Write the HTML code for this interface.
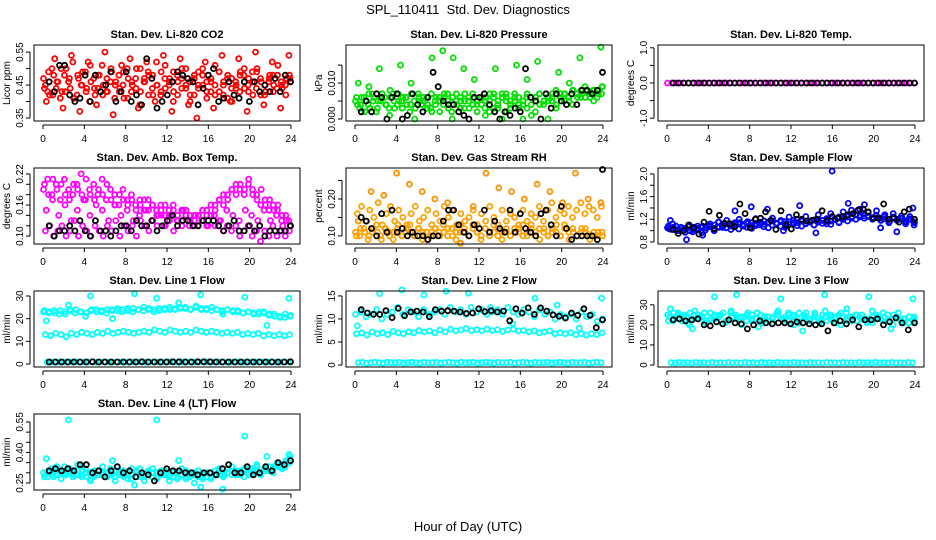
<!DOCTYPE html>
<html><head><meta charset="utf-8"><style>
body{margin:0;background:#fff;}
svg{display:block;font-family:"Liberation Sans",sans-serif;}
</style></head><body>
<svg id="chart" width="936" height="540" viewBox="0 0 936 540">
<text x="468" y="14" text-anchor="middle" font-size="13" xml:space="preserve">SPL_110411  Std. Dev. Diagnostics</text>
<text x="468" y="531" text-anchor="middle" font-size="13">Hour of Day (UTC)</text>
</svg>
<script>
const hourTicks=[0,4,8,12,16,20,24];
const co2Red1=[0.47,0.43,0.50,0.44,0.41,0.48,0.46,0.52,0.42,0.45,0.49,0.40,0.47,0.44,0.51,0.43,0.46,0.41,0.48,0.45,0.50,0.43,0.47,0.39,0.46,0.49,0.44,0.52,0.42,0.47,0.45,0.40,0.48,0.44,0.50,0.46,0.42,0.49,0.45,0.41,0.47,0.51,0.43,0.46,0.48,0.40,0.45,0.49,0.44,0.47,0.42,0.50,0.46,0.43,0.48,0.45,0.51,0.44,0.47,0.46];
const co2Red2=[0.44,0.49,0.42,0.46,0.50,0.43,0.47,0.41,0.48,0.45,0.43,0.51,0.44,0.48,0.42,0.47,0.50,0.45,0.43,0.49,0.41,0.46,0.44,0.50,0.47,0.42,0.48,0.45,0.43,0.51,0.46,0.49,0.42,0.47,0.44,0.40,0.48,0.45,0.50,0.43,0.46,0.42,0.49,0.45,0.41,0.47,0.44,0.48,0.50,0.43,0.46,0.49,0.42,0.45,0.47,0.43,0.48,0.45,0.42,0.47];
const co2Red3=[0.40,0.53,0.38,0.54,0.37,0.52,0.39,0.55,0.36,0.51,0.53,0.38,0.52,0.40,0.54,0.37,0.53,0.39,0.35,0.52,0.38,0.54,0.40,0.53,0.37,0.55,0.39,0.52,0.38,0.54];
const co2Red4=[0.45,0.42,0.48,0.46,0.43,0.50,0.44,0.41,0.47,0.49,0.44,0.46,0.42,0.48,0.45,0.43,0.49,0.46,0.44,0.41,0.47,0.45,0.50,0.43,0.46,0.48,0.42,0.45,0.49,0.44,0.47,0.43,0.46,0.50,0.45,0.42,0.47,0.44,0.48,0.46,0.43,0.45,0.49,0.42,0.47,0.44,0.46,0.43,0.48,0.45,0.49,0.44,0.47,0.42,0.46,0.48,0.44,0.46,0.45,0.48];
const co2Black=[0.46,0.43,0.51,0.51,0.42,0.40,0.41,0.48,0.40,0.48,0.43,0.45,0.49,0.40,0.43,0.49,0.40,0.42,0.39,0.53,0.47,0.38,0.40,0.42,0.46,0.49,0.48,0.47,0.46,0.39,0.44,0.48,0.50,0.40,0.41,0.46,0.42,0.41,0.46,0.40,0.46,0.43,0.45,0.43,0.47,0.43,0.48,0.46];
const prGreen1=[.005,.003,.006,.004,.007,.002,.005,.006,.003,.007,.004,.005,.006,.002,.005,.007,.004,.006,.003,.005,.006,.004,.007,.002,.005,.006,.003,.005,.007,.004,.006,.005,.002,.006,.004,.007,.005,.003,.006,.004,.005,.007,.001,.006,.004,.005,.006,.007,.004,.006,.007,.005,.008,.006,.007,.008,.006,.008,.007,.009];
const prGreen2=[.006,.004,.002,.007,.005,.003,.006,.004,.001,.005,.007,.003,.006,.004,.000,.006,.005,.003,.007,.004,.002,.006,.005,.000,.007,.003,.005,.006,.004,.002,.006,.001,.005,.007,.003,.000,.006,.004,.005,.003,.000,.006,.004,.002,.007,.005,.000,.006,.003,.007,.005,.006,.004,.007,.008,.006,.007,.005,.008,.009];
const prGreen3=[.010,.009,.014,.008,.015,.010,.004,.017,.019,.017,.014,.011,.003,.014,.007,.015,.011,.016,.005,.013,.010,.017,.007,.020];
const prGreen4=[.004,.006,.005,.003,.006,.005,.007,.004,.006,.003,.005,.006,.004,.007,.003,.005,.006,.004,.002,.006,.005,.007,.003,.006,.004,.005,.007,.003,.006,.005,.004,.006,.007,.003,.005,.006,.002,.005,.007,.006,.004,.003,.006,.005,.007,.004,.006,.005,.008,.006,.007,.006,.008,.007,.006,.009,.007,.008,.006,.007];
const prBlack=[.002,.005,.002,.007,.006,.000,.006,.007,.000,.001,.007,.004,.002,.006,.013,.009,.005,.004,.004,.002,.001,.000,.006,.006,.007,.004,.002,.000,.002,.001,.003,.002,.014,.006,.005,.000,.007,.003,.007,.005,.004,.007,.004,.008,.008,.007,.008,.013];
const tmpMagenta=[0,0,0,0,0,0,0,0,0,0,0,0,0,0,0,0,0,0,0,0,0,0,0,0,0,0,0,0,0,0,0,0,0,0,0,0,0,0,0,0,0,0,0,0,0,0,0,0,0,0,0,0,0,0,0,0,0,0,0,0];
const tmpBlack=[0,0,0,0,0,0,0,0,0,0,0,0,0,0,0,0,0,0,0,0,0,0,0,0,0,0,0,0,0,0,0,0,0,0,0,0,0,0,0,0,0,0,0,0,0,0,0,0];
const boxUpper=[0.19,0.21,0.18,0.20,0.17,0.21,0.19,0.18,0.20,0.22,0.17,0.19,0.20,0.18,0.21,0.17,0.19,0.18,0.16,0.19,0.17,0.18,0.16,0.17,0.15,0.17,0.16,0.15,0.16,0.14,0.15,0.16,0.13,0.15,0.14,0.13,0.14,0.12,0.13,0.15,0.14,0.16,0.17,0.18,0.17,0.19,0.18,0.20,0.19,0.21,0.18,0.17,0.19,0.16,0.17,0.15,0.16,0.14,0.13,0.12];
const boxUpper2=[0.20,0.18,0.21,0.19,0.20,0.18,0.17,0.20,0.19,0.18,0.21,0.18,0.17,0.19,0.18,0.20,0.17,0.16,0.18,0.17,0.16,0.17,0.15,0.16,0.17,0.15,0.16,0.14,0.15,0.16,0.14,0.15,0.14,0.13,0.15,0.14,0.13,0.14,0.15,0.14,0.16,0.15,0.17,0.16,0.18,0.19,0.20,0.19,0.18,0.20,0.19,0.18,0.16,0.17,0.15,0.16,0.15,0.13,0.14,0.12];
const boxLower=[0.11,0.12,0.10,0.11,0.12,0.10,0.11,0.13,0.10,0.12,0.11,0.10,0.12,0.11,0.10,0.12,0.11,0.13,0.10,0.12,0.11,0.12,0.10,0.13,0.12,0.11,0.13,0.12,0.14,0.12,0.13,0.11,0.13,0.12,0.14,0.13,0.12,0.14,0.13,0.12,0.14,0.12,0.13,0.11,0.12,0.11,0.12,0.10,0.11,0.12,0.10,0.11,0.09,0.11,0.10,0.12,0.10,0.11,0.10,0.11];
const boxMid=[0.15,0.17,0.14,0.16,0.13,0.15,0.17,0.14,0.16,0.15,0.13,0.16,0.14,0.15,0.13,0.14,0.15,0.13,0.14,0.12,0.14,0.13,0.15,0.12,0.14,0.13,0.12,0.14,0.13,0.15,0.14,0.13,0.15,0.14,0.13,0.15,0.13,0.14,0.12,0.13];
const boxBlack=[0.12,0.10,0.11,0.11,0.12,0.11,0.13,0.11,0.10,0.13,0.11,0.11,0.10,0.11,0.12,0.12,0.11,0.13,0.12,0.12,0.13,0.11,0.12,0.13,0.14,0.12,0.13,0.13,0.12,0.12,0.13,0.13,0.13,0.12,0.11,0.12,0.13,0.11,0.11,0.12,0.11,0.12,0.10,0.11,0.11,0.11,0.11,0.12];
const rhLow=[0.11,0.10,0.12,0.09,0.11,0.13,0.10,0.12,0.11,0.09,0.12,0.10,0.11,0.13,0.10,0.12,0.09,0.11,0.10,0.12,0.11,0.13,0.10,0.12,0.09,0.11,0.12,0.10,0.13,0.11,0.09,0.12,0.10,0.11,0.12,0.09,0.11,0.10,0.12,0.11,0.13,0.10,0.12,0.11,0.09,0.12,0.10,0.11,0.13,0.10,0.12,0.09,0.11,0.10,0.12,0.11,0.09,0.10,0.11,0.10];
const rhLow2=[0.10,0.12,0.11,0.10,0.12,0.11,0.09,0.12,0.10,0.11,0.13,0.10,0.12,0.11,0.10,0.12,0.11,0.09,0.11,0.12,0.10,0.11,0.12,0.10,0.11,0.13,0.11,0.10,0.12,0.11,0.10,0.12,0.11,0.13,0.10,0.11,0.12,0.10,0.11,0.12,0.10,0.11,0.13,0.10,0.12,0.11,0.10,0.12,0.11,0.10,0.13,0.11,0.12,0.10,0.11,0.12,0.10,0.11,0.10,0.11];
const rhHigh=[0.16,0.18,0.14,0.17,0.15,0.19,0.13,0.16,0.18,0.14,0.17,0.15,0.13,0.16,0.18,0.14,0.15,0.17,0.13,0.16,0.14,0.18,0.15,0.17,0.13,0.16,0.14,0.15,0.17,0.13,0.16,0.14,0.18,0.15,0.13,0.17,0.14,0.16,0.15,0.13,0.17,0.14,0.16,0.15,0.18,0.14,0.17,0.19,0.15,0.17,0.16,0.18,0.15,0.17,0.19,0.16,0.18,0.17,0.15,0.18];
const rhOut=[0.14,0.22,0.21,0.27,0.24,0.22,0.20,0.19,0.08,0.18,0.27,0.23,0.22,0.20,0.24,0.22,0.19,0.27,0.20,0.19];
const rhBlack=[0.15,0.14,0.12,0.10,0.16,0.11,0.17,0.11,0.12,0.10,0.11,0.10,0.10,0.09,0.10,0.10,0.14,0.17,0.17,0.13,0.11,0.10,0.13,0.12,0.17,0.11,0.14,0.12,0.11,0.17,0.11,0.16,0.12,0.11,0.10,0.16,0.17,0.13,0.10,0.18,0.12,0.09,0.10,0.10,0.10,0.10,0.09,0.28];
const sfBlue1=[1.05,1.02,1.08,1.00,1.04,1.07,0.98,1.03,1.06,1.01,1.09,1.04,1.07,1.10,1.05,1.12,1.08,1.03,1.11,1.06,1.14,1.09,1.12,1.07,1.15,1.10,1.13,1.08,1.16,1.11,1.14,1.09,1.17,1.12,1.15,1.10,1.18,1.13,1.16,1.11,1.19,1.14,1.22,1.17,1.25,1.20,1.27,1.22,1.25,1.20,1.23,1.18,1.21,1.16,1.24,1.19,1.22,1.15,1.20,1.14];
const sfBlue2=[1.08,1.12,1.00,1.06,0.97,1.10,1.02,1.08,0.96,1.05,1.12,1.00,1.15,1.06,1.18,1.02,1.14,1.20,1.08,1.16,1.04,1.21,1.10,1.17,1.05,1.22,1.12,1.18,1.06,1.24,1.13,1.20,1.08,1.25,1.16,1.10,1.28,1.18,1.12,1.30,1.20,1.15,1.33,1.24,1.36,1.28,1.38,1.26,1.32,1.22,1.35,1.18,1.28,1.14,1.30,1.20,1.26,1.12,1.25,1.10];
const sfBlue3=[1.03,1.06,1.01,1.05,1.03,1.00,1.06,1.04,1.08,1.05,1.07,1.10,1.06,1.09,1.12,1.08,1.11,1.14,1.10,1.13,1.09,1.12,1.15,1.11,1.14,1.17,1.13,1.16,1.12,1.15,1.18,1.14,1.17,1.13,1.16,1.19,1.15,1.18,1.21,1.17,1.20,1.24,1.20,1.26,1.22,1.28,1.24,1.30,1.26,1.23,1.27,1.22,1.25,1.20,1.23,1.18,1.22,1.17,1.21,1.16];
const sfBlueOut=[1.18,0.84,0.92,1.15,1.35,1.42,1.38,1.00,1.44,0.96,2.05,1.48,1.46,1.05,0.98,1.40];
const sfBlack=[1.02,0.95,1.00,1.10,1.05,0.94,1.15,1.34,1.03,1.27,1.13,1.12,1.07,1.47,1.30,1.05,1.20,1.22,1.33,1.18,1.02,1.35,1.10,1.03,1.28,1.20,1.17,1.18,1.20,1.35,1.18,1.25,1.22,1.25,1.28,1.30,1.36,1.38,1.33,1.22,1.22,1.47,1.20,1.22,1.15,1.33,1.38,1.20];
const l1Top=[23,22.5,23.5,22,23,24,22.5,23,21,23.5,24,23,22.5,24,23.5,23,24.5,23,24,23.5,24,23,24.5,24,25,24,24.5,25,24,25.5,24.5,24,25,24,23.5,24,23,23.5,22.5,23,22,23,22.5,22,21,20.5,22,21.5];
const l1Top2=[23.5,23,22.5,23.5,22,23.5,24,23,22.5,24,23,23.5,24,23.5,24.5,24,23.5,24.5,24,25,24.5,24,23.5,24.5,24,24.5,25,24.5,24,25,24,24.5,23.5,24,23,24,23.5,23,22.5,23,22.5,22,23,21.5,22,21,20.5,21];
const l1Mid=[13,12.5,13.5,13,12,13.5,13,14,13.5,13,14,13.5,14.5,13.5,14,14.5,14,13.5,14,14.5,14,15,14.5,14,15,14.5,14,14.5,14,15,14.5,14,14.5,14,13.5,14,13.5,14,13,13.5,13,13.5,12.5,13,12.5,13,12.5,13];
const l1Out=[19,26,30,20,31,29,27,30.5,22,29.5,17,29];
const l1Low=[0.8,0.9,0.8,1.0,0.9,0.8,0.9,1.0,0.8,0.9,0.9,1.0,0.8,0.9,1.0,0.9,0.8,0.9,1.0,0.9,0.8,0.9,0.9,1.0,0.8,0.9,1.0,0.9,0.8,0.9,1.0,0.9,0.8,0.9,0.9,1.0,0.8,0.9,1.0,0.9,0.8,0.9,1.0,0.9,0.8,0.9,0.9,1.0,0.8,0.9,1.0,0.9,0.8,0.9,0.9,1.0,0.8,0.9,1.0,0.9];
const l1Black=[0.9,0.9,0.9,0.9,0.9,0.9,0.9,1.0,0.9,0.9,0.9,0.9,0.9,0.9,0.9,1.0,0.9,0.9,0.9,0.9,1.0,1.0,0.9,0.9,1.0,1.0,1.0,0.9,0.9,0.9,0.9,0.9,0.9,0.9,0.9,0.9,0.9,0.9,0.9,1.0];
const l2Top=[11,11.5,10.5,11,12,10,11,11.5,12.5,11,12,11.5,10.5,12,11,11.5,12,11,12.5,11.5,12,11,12.5,11.5,12,11,11.5,12,11,12.5,11.5,11,12,11.5,10.5,12,11,11.5,10,11,10.5,11,10,11.5,10.5,11,9.5,10];
const l2Mid=[6.8,7,6.5,7.2,6.8,7,6.6,7.3,7,6.8,7.2,7,7.5,7.2,7.4,7,7.6,7.2,7.8,7.4,7.6,7.9,7.5,7.7,7.4,7.8,7.5,7.7,7.3,7.6,7.8,7.4,7.5,7.2,7.4,7,7.2,7.4,6.8,7,6.8,7,6.6,6.8,6.5,6.8,6.6,7];
const l2Out=[8.5,15.5,16.3,15.2,16,15.6,12.5,9,14.5,13,8,14.5];
const l2Low=[0.5,0.6,0.4,0.5,0.6,0.5,0.4,0.6,0.5,0.5,0.6,0.4,0.5,0.6,0.5,0.4,0.6,0.5,0.5,0.6,0.4,0.5,0.6,0.5,0.4,0.6,0.5,0.5,0.6,0.4,0.5,0.6,0.5,0.4,0.6,0.5,0.5,0.6,0.4,0.5,0.6,0.5,0.4,0.6,0.5,0.5,0.6,0.4,0.5,0.6,0.5,0.4,0.6,0.5,0.5,0.6,0.4,0.5,0.6,0.5];
const l2Black=[12,11.3,11,11,11.8,10.3,12.3,10.7,11.5,11.7,11.5,10.5,12,11.7,11.8,11.7,11.5,11.2,11.3,12.2,11.6,11.8,11.5,11.7,9.6,12.2,11.3,12.4,11,12.4,11.7,10.9,10.6,10.2,11.3,10.8,12.2,10.8,8.1,9.8];
const l3Band1=[25,22,26,24,21,25,23,26,22,24,25,21,26,23,24,22,25,26,21,24,23,25,22,26,24,21,25,23,26,22,24,25,21,26,23,24,22,25,23,21,24,26,22,25,23,21,24,22];
const l3Band2=[22,26,23,25,20,27,24,21,26,23,25,22,27,24,20,25,23,26,22,24,21,27,23,25,20,26,24,22,25,21,27,23,24,20,26,22,25,23,21,27,24,22,25,20,26,23,21,24];
const l3Band3=[24,23,25,22,24,26,23,25,24,22,23,25,24,26,22,24,25,23,24,26,22,23,25,24,22,24,26,23,24,22,25,23,24,26,22,24,23,25,22,24,23,25,24,22,23,25,24,23,22,24,25,23,24,22,23,24,22,23,24,23];
const l3Out=[28,18,34,35,19,33,17,35,28,34,18,33];
const l3Low=[1.2,1.0,1.3,1.1,1.2,1.0,1.3,1.1,1.2,1.0,1.3,1.1,1.2,1.0,1.3,1.1,1.2,1.0,1.3,1.1,1.2,1.0,1.3,1.1,1.2,1.0,1.3,1.1,1.2,1.0,1.3,1.1,1.2,1.0,1.3,1.1,1.2,1.0,1.3,1.1,1.2,1.0,1.3,1.1,1.2,1.0,1.3,1.1,1.2,1.0,1.3,1.1,1.2,1.0,1.3,1.1,1.2,1.0,1.3,1.1];
const l3Black=[22.5,23,22,22.5,23,20,19.5,21.5,20.5,22.5,21,20.5,18,20,22,21,20.5,21,21,20.5,21.5,21,20.5,20,20.5,17,21,22,20.5,22.5,19,22.5,22.5,23,20,21.5,23.5,21,17.5,21];
const ltBand1=[0.30,0.28,0.32,0.29,0.31,0.33,0.30,0.28,0.31,0.29,0.32,0.30,0.28,0.31,0.29,0.30,0.32,0.28,0.30,0.31,0.29,0.27,0.30,0.32,0.29,0.31,0.28,0.30,0.29,0.31,0.28,0.30,0.27,0.29,0.31,0.28,0.30,0.29,0.27,0.30,0.28,0.31,0.29,0.30,0.32,0.29,0.31,0.30,0.32,0.29,0.31,0.33,0.30,0.32,0.31,0.33,0.34,0.32,0.35,0.36];
const ltBand2=[0.28,0.31,0.29,0.33,0.27,0.30,0.32,0.29,0.34,0.28,0.30,0.27,0.31,0.29,0.33,0.28,0.30,0.26,0.31,0.29,0.27,0.32,0.30,0.28,0.26,0.30,0.32,0.27,0.31,0.29,0.26,0.30,0.28,0.32,0.27,0.29,0.25,0.31,0.28,0.30,0.27,0.29,0.32,0.28,0.30,0.33,0.29,0.31,0.28,0.32,0.30,0.34,0.29,0.31,0.33,0.30,0.35,0.33,0.36,0.38];
const ltBand3=[0.29,0.30,0.28,0.31,0.30,0.29,0.31,0.30,0.29,0.31,0.28,0.30,0.29,0.31,0.30,0.28,0.29,0.31,0.29,0.28,0.30,0.29,0.31,0.29,0.28,0.29,0.30,0.28,0.29,0.30,0.29,0.28,0.30,0.29,0.28,0.30,0.29,0.28,0.29,0.28,0.30,0.29,0.31,0.29,0.30,0.31,0.30,0.29,0.31,0.30,0.32,0.31,0.30,0.32,0.31,0.32,0.33,0.34,0.33,0.35];
const ltOut=[0.37,0.56,0.26,0.36,0.24,0.56,0.36,0.23,0.22,0.48,0.38,0.39];
const ltBlack=[0.31,0.32,0.31,0.32,0.31,0.34,0.34,0.30,0.31,0.28,0.31,0.33,0.30,0.31,0.28,0.30,0.29,0.26,0.30,0.32,0.31,0.31,0.30,0.30,0.29,0.30,0.30,0.29,0.32,0.34,0.30,0.30,0.33,0.29,0.30,0.33,0.31,0.35,0.34,0.36];

const NS='http://www.w3.org/2000/svg';
const svg=document.getElementById('chart');
function mk(tag,attrs,parent){const e=document.createElementNS(NS,tag);for(const k in attrs)e.setAttribute(k,attrs[k]);(parent||svg).appendChild(e);return e;}

const panels=[
 {id:'co2',title:'Stan. Dev. Li-820 CO2',yl:'Licor ppm',c:0,r:0,ymin:0.341,ymax:0.5715,ticks:[0.35,0.40,0.45,0.50,0.55],labels:['0.35','','0.45','','0.55'],series:[[co2Red1,'#ff0000'],[co2Red2,'#ff0000'],[co2Red4,'#ff0000'],[co2Red3,'#ff0000'],[co2Black,'#000']]},
 {id:'pressure',title:'Stan. Dev. Li-820 Pressure',yl:'kPa',c:1,r:0,ymin:-0.00056,ymax:0.0206,ticks:[0,0.005,0.010,0.015],labels:['0.000','','0.010',''],series:[[prGreen1,'#00e000'],[prGreen2,'#00e000'],[prGreen4,'#00e000'],[prGreen3,'#00e000'],[prBlack,'#000']]},
 {id:'temp',title:'Stan. Dev. Li-820 Temp.',yl:'degrees C',c:2,r:0,ymin:-1.08,ymax:1.08,ticks:[-1,-0.5,0,0.5,1],labels:['-1.0','','0.0','','1.0'],series:[[tmpMagenta,'#ff00ff'],[tmpBlack,'#000']]},
 {id:'boxtemp',title:'Stan. Dev. Amb. Box Temp.',yl:'degrees C',c:0,r:1,ymin:0.0848,ymax:0.2314,ticks:[0.10,0.12,0.14,0.16,0.18,0.20,0.22],labels:['0.10','','','0.16','','','0.22'],series:[[boxUpper,'#ff00ff'],[boxUpper2,'#ff00ff'],[boxLower,'#ff00ff'],[boxMid,'#ff00ff'],[boxBlack,'#000']]},
 {id:'rh',title:'Stan. Dev. Gas Stream RH',yl:'percent',c:1,r:1,ymin:0.078,ymax:0.284,ticks:[0.10,0.15,0.20,0.25],labels:['0.10','','0.20',''],series:[[rhLow,'#ffa000'],[rhLow2,'#ffa000'],[rhHigh,'#ffa000'],[rhOut,'#ff9000'],[rhBlack,'#000']]},
 {id:'sampleflow',title:'Stan. Dev. Sample Flow',yl:'ml/min',c:2,r:1,ymin:0.765,ymax:2.104,ticks:[0.8,1.0,1.2,1.4,1.6,1.8,2.0],labels:['0.8','','1.2','','1.6','','2.0'],series:[[sfBlue1,'#0000ff'],[sfBlue2,'#0000ff'],[sfBlue3,'#0000ff'],[sfBlueOut,'#0000ff'],[sfBlack,'#000']]},
 {id:'line1',title:'Stan. Dev. Line 1 Flow',yl:'ml/min',c:0,r:2,ymin:-1.3,ymax:32.2,ticks:[0,10,20,30],labels:['0','10','20','30'],series:[[l1Top,'#00ffff'],[l1Top2,'#00ffff'],[l1Mid,'#00ffff'],[l1Out,'#00ffff'],[l1Low,'#00ffff'],[l1Black,'#000']]},
 {id:'line2',title:'Stan. Dev. Line 2 Flow',yl:'ml/min',c:1,r:2,ymin:-0.43,ymax:16.07,ticks:[0,5,10,15],labels:['0','5','10','15'],series:[[l2Top,'#00ffff'],[l2Mid,'#00ffff'],[l2Out,'#00ffff'],[l2Low,'#00ffff'],[l2Black,'#000']]},
 {id:'line3',title:'Stan. Dev. Line 3 Flow',yl:'ml/min',c:2,r:2,ymin:-1,ymax:36.9,ticks:[0,10,20,30],labels:['0','10','20','30'],series:[[l3Band1,'#00ffff'],[l3Band2,'#00ffff'],[l3Band3,'#00ffff'],[l3Out,'#00ffff'],[l3Low,'#00ffff'],[l3Black,'#000']]},
 {id:'line4',title:'Stan. Dev. Line 4 (LT) Flow',yl:'ml/min',c:0,r:3,ymin:0.2155,ymax:0.589,ticks:[0.25,0.30,0.35,0.40,0.45,0.50,0.55],labels:['0.25','','','0.40','','','0.55'],series:[[ltBand1,'#00ffff'],[ltBand2,'#00ffff'],[ltBand3,'#00ffff'],[ltOut,'#00ffff'],[ltBlack,'#000']]}
];

panels.forEach(p=>{
  const x0=34+312*p.c, x1=x0+266, y0=45+123*p.r, y1=y0+76;
  const xs=h=>x0+9+(h/24)*(x1-x0-18);
  const ys=v=>y1-(v-p.ymin)/(p.ymax-p.ymin)*(y1-y0);
  const g=mk('g',{});
  
  
  const t=mk('text',{x:(x0+x1)/2,y:y0-7,'text-anchor':'middle','font-size':'11','font-weight':'bold'},g);
  t.textContent=p.title;
  
  
  const pg=mk('g',{},g);
  
  
  p.series.forEach(([vals,col],k)=>{
    const isBlack=col==='#000';
    const n=vals.length, start=isBlack?0.6:0.05+k*0.09, end=23.95-(isBlack?0:k*0.05);
    vals.forEach((v,i)=>{
      const h=start+i*(end-start)/(n-1);
      const c=mk('circle',{cx:xs(h).toFixed(1),cy:ys(v).toFixed(1),r:2.5,fill:'none',stroke:col,'stroke-width':1.8},pg);
      
      
    });
  });
  const box=mk('rect',{x:x0,y:y0,width:x1-x0,height:y1-y0,fill:'none',stroke:'#000','stroke-width':1},g);
  
  
  const xa=mk('g',{},g);
  
  
  mk('line',{x1:xs(0),x2:xs(24),y1:y1+4,y2:y1+4,stroke:'#000'},xa);
  hourTicks.forEach(h=>{
    mk('line',{x1:xs(h),x2:xs(h),y1:y1+4,y2:y1+8,stroke:'#000'},xa);
    const tl=mk('text',{x:xs(h),y:y1+21,'text-anchor':'middle','font-size':'10'},xa);
    tl.textContent=h;
    
    
  });
  const ya=mk('g',{},g);
  
  
  const tk=p.ticks;
  mk('line',{x1:x0-4,x2:x0-4,y1:ys(tk[0]),y2:ys(tk[tk.length-1]),stroke:'#000'},ya);
  tk.forEach((v,i)=>{
    const y=ys(v);
    mk('line',{x1:x0-8,x2:x0-4,y1:y,y2:y,stroke:'#000'},ya);
    if(p.labels[i]){
      const tl=mk('text',{x:x0-11,y:y,'text-anchor':'middle','font-size':'10',transform:`rotate(-90 ${x0-11} ${y})`},ya);
      tl.textContent=p.labels[i];
      
      
    }
  });
  const yl=mk('text',{x:x0-24,y:(y0+y1)/2,'text-anchor':'middle','font-size':'10',transform:`rotate(-90 ${x0-24} ${(y0+y1)/2})`},ya);
  yl.textContent=p.yl;
  
  
});
</script>
</body></html>
